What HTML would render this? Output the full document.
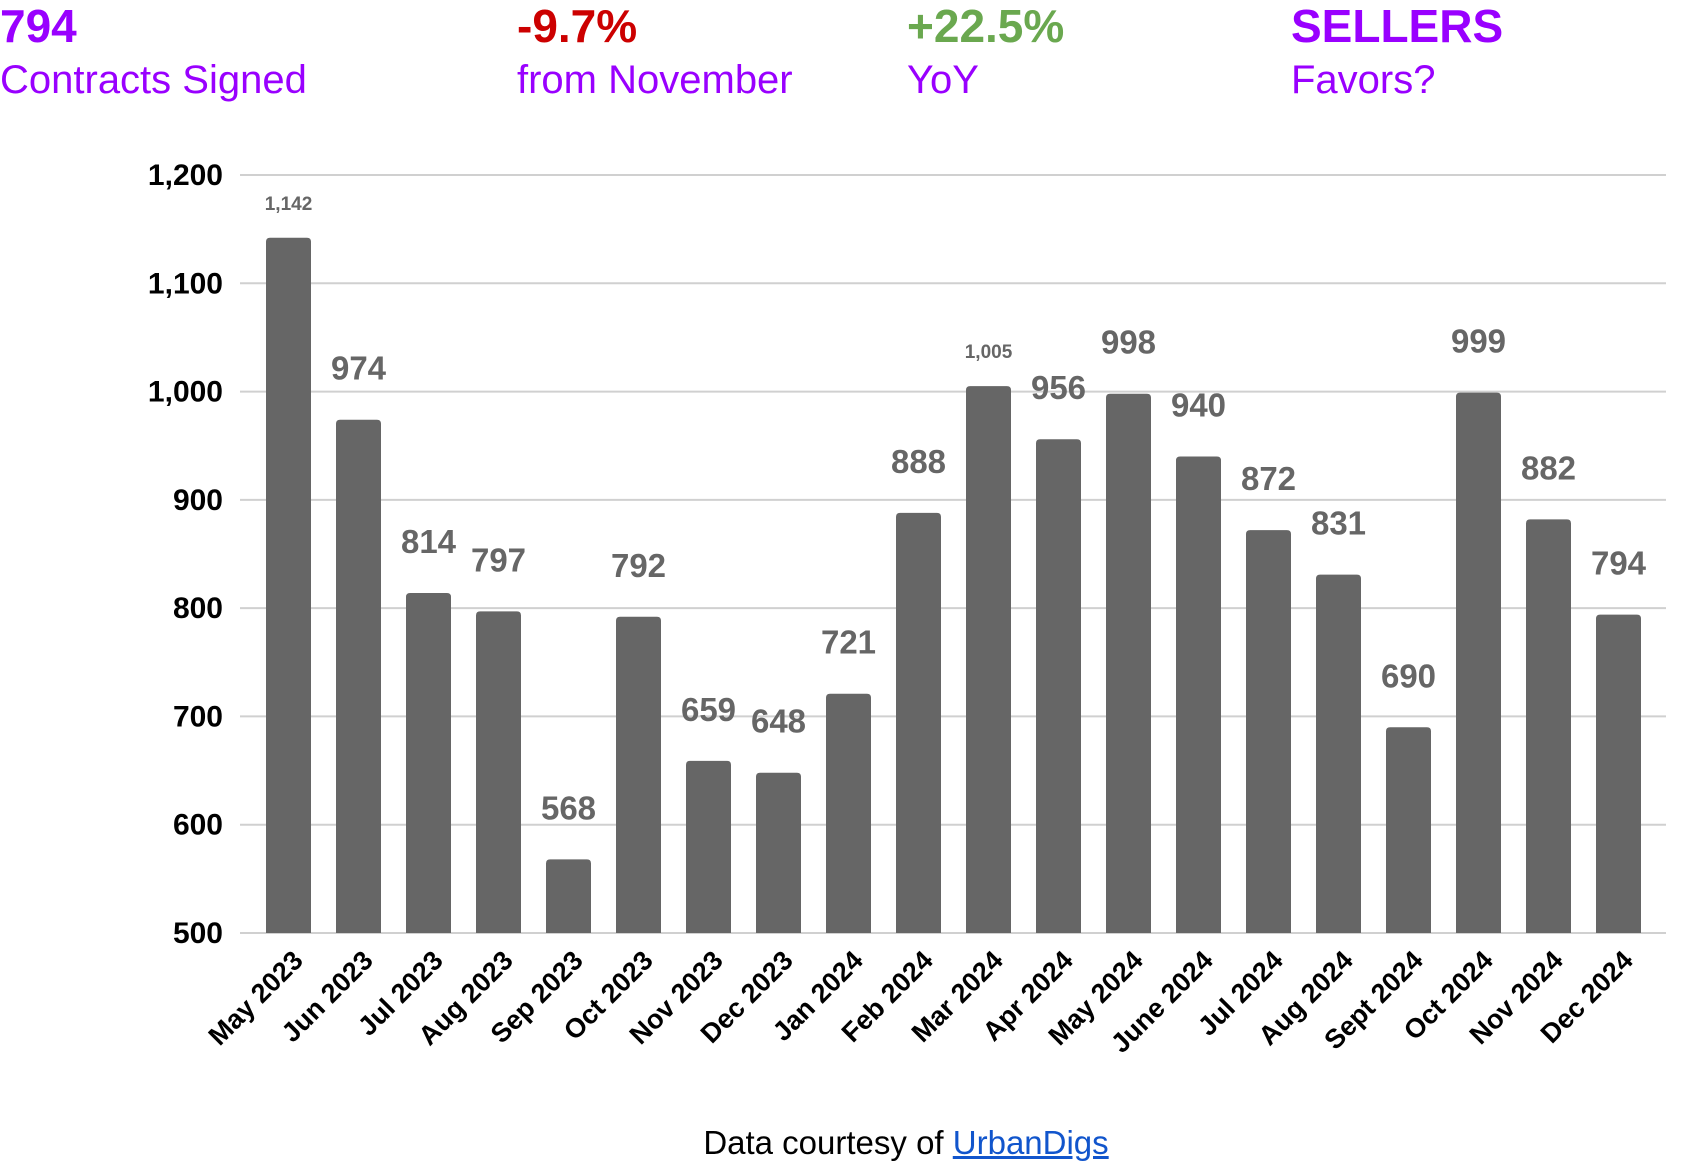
<!DOCTYPE html>
<html><head><meta charset="utf-8"><style>
body{margin:0;background:#fff;width:1686px;height:1174px;overflow:hidden;font-family:"Liberation Sans",sans-serif}
.h{position:absolute;line-height:1}
.b{font-weight:bold;font-size:46px}
.s{font-size:40px}
</style></head><body>
<div>
<div class="h b" style="left:0;top:3px;color:#9900ff">794</div>
<div class="h s" style="left:0;top:60px;color:#9900ff">Contracts Signed</div></div>
<div>
<div class="h b" style="left:517px;top:3px;color:#cc0000">-9.7%</div>
<div class="h s" style="left:517px;top:60px;color:#9900ff">from November</div></div>
<div>
<div class="h b" style="left:907px;top:3px;color:#6aa84f">+22.5%</div>
<div class="h s" style="left:907px;top:60px;color:#9900ff">YoY</div></div>
<div>
<div class="h b" style="left:1291px;top:3px;color:#9900ff">SELLERS</div>
<div class="h s" style="left:1291px;top:60px;color:#9900ff">Favors?</div></div>
<svg id="chart" width="1686" height="1100" style="position:absolute;left:0;top:0"></svg>
<div class="h" style="left:0;width:1812px;text-align:center;top:1126px;font-size:33px;color:#000">Data courtesy of <a style="color:#1155cc;text-decoration:underline">UrbanDigs</a></div>
<script>
const categories=["May 2023","Jun 2023","Jul 2023","Aug 2023","Sep 2023","Oct 2023","Nov 2023","Dec 2023","Jan 2024","Feb 2024","Mar 2024","Apr 2024","May 2024","June 2024","Jul 2024","Aug 2024","Sept 2024","Oct 2024","Nov 2024","Dec 2024"];
const values=[1142,974,814,797,568,792,659,648,721,888,1005,956,998,940,872,831,690,999,882,794];
const yTicks=[500,600,700,800,900,1000,1100,1200];
const NS="http://www.w3.org/2000/svg";
const svg=document.getElementById('chart');
const x0=240,x1=1666,yTop=175,yBot=933,vMin=500,vMax=1200;
const y=v=>yBot-(v-vMin)/(vMax-vMin)*(yBot-yTop);
const bw=45;
const xc=i=>266+bw/2+i*70.0;
function mk(t,a){const e=document.createElementNS(NS,t);for(const k in a)e.setAttribute(k,a[k]);svg.appendChild(e);return e;}
const fmt=v=>v.toLocaleString('en-US');
yTicks.forEach(t=>{
 const l=mk('line',{x1:x0,x2:x1,y1:y(t),y2:y(t),stroke:'#d0d0d0','stroke-width':2});
 
 
 const tx=mk('text',{x:223,y:y(t)+10,'text-anchor':'end','font-size':30,'font-weight':'bold',fill:'#000'});
 tx.textContent=fmt(t);
 
 
});
values.forEach((v,i)=>{
 const c=xc(i);
 const r=mk('path',{d:`M${c-bw/2},${yBot} V${y(v)+4} q0,-4 4,-4 h${bw-8} q4,0 4,4 V${yBot} Z`,fill:'#666'});
 
 
 const small=v>=1000&&v!==998&&v!==999;
 const t=mk('text',{x:c,y:y(v)-(small?28:40),'text-anchor':'middle','font-size':small?19:33,'font-weight':'bold',fill:'#666'});
 t.textContent=fmt(v);
 
 
 const xl=mk('text',{x:0,y:0,'text-anchor':'end','font-size':27,'font-weight':'bold',fill:'#000',transform:`translate(${c+16},${yBot+29}) rotate(-45)`});
 xl.textContent=categories[i];
 
 
});
</script>
</body></html>
